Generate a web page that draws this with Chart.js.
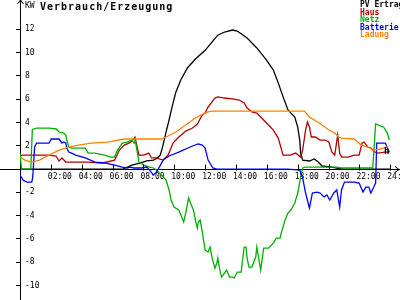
<!DOCTYPE html>
<html>
<head>
<meta charset="utf-8">
<script src="https://cdn.jsdelivr.net/npm/chart.js@4"></script>
<style>
  html, body { margin: 0; padding: 0; background: #fff; }
  #wrap { position: relative; width: 400px; height: 300px; overflow: hidden; }
  #title { position: absolute; left: 40px; top: 2px; font: bold 10px/10px "DejaVu Sans Mono", monospace; letter-spacing: 1px; color: #000; white-space: nowrap; }
  #legend { position: absolute; left: 360px; top: 1px; font: bold 8px/7.6px "DejaVu Sans Mono", monospace; white-space: nowrap; }
  #unit { position: absolute; left: 384px; top: 147px; font: bold 9px/9px "DejaVu Sans Mono", monospace; }
</style>
</head>
<body>
<div id="wrap">
  <canvas id="chart" width="400" height="300"></canvas>
  <div id="title">Verbrauch/Erzeugung</div>
  <div id="legend"></div>
  <div id="unit">h</div>
</div>
<script>
// hours of day / kW
const pvHours = [0, 6.7, 6.82, 7.26, 7.77, 8.21, 8.65, 8.9, 9.09, 9.22, 9.35, 9.47, 9.66, 9.85, 10.1, 10.42, 10.86, 11.37, 12.0, 12.44, 12.82, 13.26, 13.77, 14.08, 14.72, 15.35, 15.98, 16.42, 16.74, 17.05, 17.37, 17.81, 18.0, 18.13, 18.19, 18.32, 18.76, 19.07, 19.33, 19.58, 20.21, 20.6, 21, 24];
const pvValues = [0, 0, 0.09, 0.34, 0.5, 0.7, 0.77, 0.95, 1.2, 1.8, 2.5, 3.2, 4.2, 5.3, 6.6, 7.65, 8.7, 9.45, 10.2, 10.9, 11.5, 11.77, 11.94, 11.85, 11.25, 10.4, 9.36, 8.5, 7.4, 6.2, 5.07, 4.47, 3.6, 2.5, 1.37, 0.77, 0.69, 0.86, 0.6, 0.26, 0.17, 0.05, 0, 0];

const hausHours = [0, 0.13, 1.89, 2.34, 2.53, 2.72, 2.97, 3.35, 4.42, 5.37, 6.13, 6.44, 6.76, 7.07, 7.26, 7.45, 7.58, 7.71, 8.02, 8.34, 8.53, 8.84, 9.28, 9.6, 9.92, 10.23, 10.74, 11.18, 11.5, 11.81, 12.0, 12.19, 12.63, 12.82, 13.26, 13.89, 14.21, 14.53, 14.72, 15.03, 15.35, 15.79, 16.23, 16.42, 16.74, 17.05, 17.5, 17.87, 18.19, 18.32, 18.51, 18.63, 18.76, 18.88, 19.14, 19.45, 19.77, 20.02, 20.21, 20.4, 20.59, 20.72, 20.84, 21.28, 21.66, 21.98, 22.17, 22.3, 22.55, 22.74, 22.99, 23.24, 23.62, 23.94];
const hausValues = [1.03, 1.2, 1.2, 1.12, 0.69, 0.95, 0.6, 0.6, 0.6, 0.52, 0.77, 1.63, 2.06, 2.23, 2.4, 2.75, 1.98, 1.2, 1.2, 1.37, 0.95, 0.95, 0.77, 1.2, 2.23, 2.66, 3.26, 3.52, 3.87, 4.64, 4.81, 5.33, 6.1, 6.19, 6.1, 6.01, 5.93, 5.67, 5.24, 4.9, 4.81, 4.21, 3.61, 3.35, 2.66, 1.2, 1.2, 1.37, 1.03, 1.63, 3.35, 4.04, 3.61, 2.75, 2.75, 2.49, 2.49, 2.32, 1.46, 1.2, 2.92, 1.37, 1.03, 1.03, 1.2, 1.2, 2.23, 2.32, 1.89, 1.8, 1.46, 1.37, 1.46, 1.46];

const netzHours = [0, 0.1, 0.7, 0.8, 1.07, 1.89, 2.34, 2.53, 2.84, 2.97, 3.03, 3.16, 3.35, 4.23, 4.42, 4.86, 5.49, 5.87, 6.13, 6.32, 6.63, 6.95, 7.26, 7.39, 7.45, 7.58, 7.71, 8.02, 8.4, 8.65, 8.84, 9.16, 9.47, 9.66, 9.79, 9.98, 10.29, 10.61, 10.74, 10.93, 11.05, 11.24, 11.37, 11.49, 11.56, 11.68, 11.87, 12.0, 12.19, 12.32, 12.44, 12.63, 12.76, 12.82, 12.95, 13.07, 13.26, 13.39, 13.58, 13.77, 13.89, 14.08, 14.34, 14.4, 14.53, 14.65, 14.72, 14.84, 15.03, 15.28, 15.35, 15.47, 15.6, 15.79, 16.11, 16.42, 16.61, 16.86, 16.93, 17.18, 17.37, 17.56, 17.81, 18.0, 18.19, 18.32, 18.51, 19.58, 20.53, 20.84, 22.86, 22.93, 23.05, 23.24, 23.56, 23.81, 23.94];
const netzValues = [1.4, 0, 0, 3.4, 3.52, 3.52, 3.44, 3.18, 3.09, 2.92, 2.49, 1.89, 1.8, 1.8, 1.37, 1.37, 1.2, 1.03, 1.03, 1.63, 2.23, 2.32, 2.49, 2.23, 2.58, 1.63, 0.6, 0.34, 0.17, 0.09, -0.09, -0.52, -0.95, -1.8, -2.66, -3.26, -3.52, -4.55, -3.78, -2.49, -2.92, -3.52, -4.38, -5.07, -4.55, -4.38, -5.84, -6.96, -7.13, -6.7, -7.56, -8.51, -8.08, -7.65, -8.68, -9.28, -8.93, -8.68, -9.28, -9.28, -9.36, -8.85, -8.85, -8.08, -6.7, -6.7, -7.65, -8.42, -8.42, -7.56, -6.7, -7.65, -8.68, -6.79, -6.79, -6.36, -5.93, -5.93, -5.5, -4.38, -3.78, -3.52, -2.92, -2.06, -0.69, 0.09, 0.17, 0.17, 0.17, 0.09, 0.09, 1.37, 3.87, 3.78, 3.61, 3.09, 2.49];

const battHours = [0, 0.19, 0.44, 0.76, 0.82, 0.95, 1.07, 1.89, 2.02, 2.53, 2.72, 2.84, 2.97, 3.03, 3.16, 3.35, 3.6, 4.23, 4.86, 5.49, 6.13, 6.63, 6.95, 7.14, 7.39, 7.9, 8.21, 8.4, 8.65, 8.84, 9.03, 9.28, 9.66, 10.29, 11.18, 11.56, 11.81, 12.0, 12.19, 12.5, 12.76, 17.37, 18.13, 18.32, 18.51, 18.76, 18.95, 19.26, 19.45, 19.71, 19.89, 20.08, 20.34, 20.53, 20.72, 20.84, 21.03, 21.66, 21.98, 22.23, 22.42, 22.61, 22.74, 22.93, 23.05, 23.12, 23.68, 23.81, 23.94];
const battValues = [-0.5, -0.95, -1.12, -1.12, -0.77, 1.89, 2.23, 2.23, 2.58, 2.58, 2.23, 2.32, 2.23, 1.8, 1.46, 1.37, 1.2, 0.95, 0.6, 0.52, 0.34, 0.17, 0.09, 0.17, 0.09, 0.09, 0.17, -0.09, -0.52, -0.26, 0.17, 0.77, 1.12, 1.46, 1.98, 2.15, 2.06, 1.8, 0.77, 0.09, 0, 0, -0.09, -0.77, -2.06, -3.35, -2.06, -1.98, -2.06, -2.4, -2.23, -2.66, -2.06, -1.8, -3.26, -1.8, -1.12, -1.12, -1.2, -1.98, -1.55, -1.55, -2.06, -1.55, -1.2, 2.23, 2.23, 1.8, 1.46];

const ladungHours = [0, 0.32, 0.76, 1.26, 1.89, 2.53, 3.16, 3.79, 4.61, 5.68, 6.76, 7.77, 9.16, 9.47, 10.1, 10.74, 11.37, 12.0, 12.19, 12.44, 18.44, 18.76, 19.39, 20.02, 20.4, 20.65, 20.84, 21.66, 22.11, 22.55, 22.93, 23.37, 23.87];
const ladungValues = [1.03, 0.77, 0.6, 0.77, 1.2, 1.63, 1.89, 2.06, 2.23, 2.32, 2.58, 2.58, 2.58, 2.75, 3.18, 3.78, 4.38, 4.81, 4.9, 4.98, 4.98, 4.47, 3.95, 3.35, 3.09, 2.75, 2.66, 2.58, 2.06, 1.89, 1.63, 1.72, 1.95];

const seriesNames = ['PV Ertrag', 'Haus', 'Netz', 'Batterie', 'Ladung'];
const seriesColors = ['#000000', '#b40000', '#00b000', '#0000ff', '#ff8000'];
const xTicks = [2, 4, 6, 8, 10, 12, 14, 16, 18, 20, 22, 24];
const yTicks = [-10, -8, -6, -4, -2, 0, 2, 4, 6, 8, 10, 12, 14];

const allHours = [pvHours, hausHours, netzHours, battHours, ladungHours];
const allValues = [pvValues, hausValues, netzValues, battValues, ladungValues];

// legend as coloured text lines
const legendEl = document.getElementById('legend');
seriesNames.forEach((name, i) => {
    const d = document.createElement('div');
    d.textContent = name;
    d.style.color = seriesColors[i];
    legendEl.appendChild(d);
});

// arrows, x tick marks and the bit of x axis left of the y axis
const axisExtras = {
    id: 'axisExtras',
    afterDraw(chart) {
        const { ctx, scales: { x, y } } = chart;
        const y0 = Math.round(y.getPixelForValue(0)) + 0.5;
        const x0 = Math.round(x.getPixelForValue(0)) + 0.5;
        ctx.save();
        ctx.strokeStyle = '#000';
        ctx.lineWidth = 1;
        ctx.beginPath();
        ctx.moveTo(0, y0); ctx.lineTo(x0, y0);
        ctx.moveTo(399, y0); ctx.lineTo(395, y0 - 3);
        ctx.moveTo(399, y0); ctx.lineTo(395, y0 + 3);
        ctx.moveTo(x0, 0); ctx.lineTo(x0 - 3, 4);
        ctx.moveTo(x0, 0); ctx.lineTo(x0 + 3, 4);
        x.ticks.forEach(t => {
            const px = Math.round(x.getPixelForValue(t.value)) + 0.5;
            ctx.moveTo(px, y0 - 5); ctx.lineTo(px, y0 + 1);
        });
        ctx.stroke();
        ctx.restore();
    }
};

const noPadding = s => { s.paddingLeft = 0; s.paddingRight = 0; s.paddingTop = 0; s.paddingBottom = 0; };

new Chart(document.getElementById('chart'), {
    type: 'line',
    data: {
        datasets: seriesNames.map((name, i) => ({
            label: name,
            data: allHours[i].map((h, j) => ({ x: h, y: allValues[i][j] })),
            borderColor: seriesColors[i],
            borderWidth: 1.3,
            pointRadius: 0,
            tension: 0,
            fill: false,
            order: 5 - i
        }))
    },
    options: {
        responsive: false,
        animation: false,
        devicePixelRatio: 1,
        layout: { padding: { left: 6, right: 0, top: 0, bottom: 0 } },
        plugins: { legend: { display: false }, tooltip: { enabled: false } },
        scales: {
            x: {
                type: 'linear',
                position: { y: 0 },
                min: 0,
                max: 24.63,
                afterBuildTicks: s => { s.ticks = xTicks.map(v => ({ value: v })); },
                afterFit: noPadding,
                grid: { drawOnChartArea: false, drawTicks: false },
                border: { color: '#000', width: 1 },
                ticks: {
                    autoSkip: false,
                    maxRotation: 0,
                    align: 'start',
                    labelOffset: -3,
                    padding: 3,
                    color: '#000',
                    font: { family: 'DejaVu Sans Mono', size: 8 },
                    callback: v => (v < 10 ? '0' : '') + v + ':00'
                }
            },
            y: {
                position: 'left',
                min: -11.25,
                max: 14.52,
                afterBuildTicks: s => { s.ticks = yTicks.map(v => ({ value: v })); },
                afterFit: noPadding,
                grid: {
                    drawOnChartArea: false,
                    drawTicks: true,
                    tickLength: 4,
                    color: c => (c.tick && c.tick.value === 14) ? 'rgba(0,0,0,0)' : '#000'
                },
                border: { color: '#000', width: 1 },
                ticks: {
                    mirror: true,
                    padding: 5,
                    color: '#000',
                    font: { family: 'DejaVu Sans Mono', size: 8 },
                    callback: v => v === 14 ? 'KW' : (v === 0 ? '' : String(v))
                }
            }
        }
    },
    plugins: [axisExtras]
});
</script>
</body>
</html>
